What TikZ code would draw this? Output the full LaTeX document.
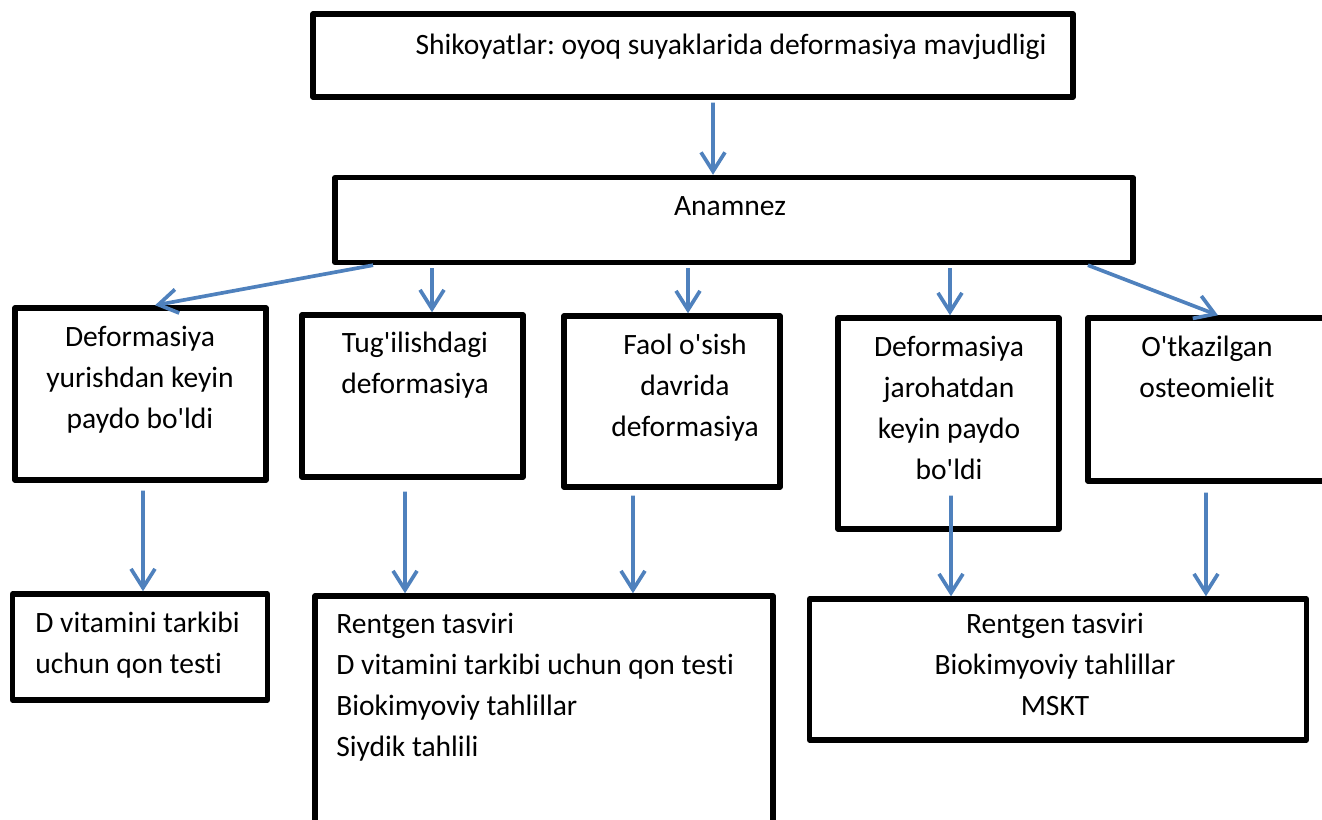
\documentclass[tikz,border=0pt]{standalone}
\usepackage{fontspec}
\setmainfont{Carlito}[Ligatures=NoCommon]
\usepackage{tikz}
\usetikzlibrary{arrows.meta, positioning}
\definecolor{arrblue}{RGB}{79,129,189}
\tikzset{
  box/.style={rectangle, draw=black, line width=3.1pt, line join=round, inner sep=0pt},
  txt/.style={font=\fontsize{16.8}{23.3}\selectfont, align=center, inner sep=0pt, anchor=north},
  ltxt/.style={font=\fontsize{16.8}{23.3}\selectfont, align=left, inner sep=0pt, anchor=north west},
  arr/.style={-{Straight Barb[length=0.38cm, width=0.48cm]}, line width=2.1pt, color=arrblue}
}
\newcommand{\tq}{\textquotesingle}
\frenchspacing

\begin{document}
\begin{tikzpicture}[x=0.02cm, y=-0.02cm]
  \useasboundingbox (0,0) rectangle (1322,820);

  % Complaint and anamnesis
  \node[box, minimum width=15.2cm, minimum height=1.66cm] (top) at (693,55.5) {};
  \node[txt] (toptxt) at (731,34) {Shikoyatlar: oyoq suyaklarida deformasiya mavjudligi};
  \node[box, minimum width=15.96cm, minimum height=1.7cm] (anamnez) at (734,220) {};
  \node[txt] (anamtxt) at (730,196) {Anamnez};

  % Second row: causes
  \node[box, minimum width=5.02cm, minimum height=3.44cm] (b1) at (140.5,394) {};
  \node[txt] (t1) at (140,326) {Deformasiya\\yurishdan keyin\\paydo bo\tq ldi};
  \node[box, minimum width=4.42cm, minimum height=3.24cm] (b2) at (412.5,396) {};
  \node[txt] (t2) at (415,332) {Tug\tq ilishdagi\\deformasiya};
  \node[box, minimum width=4.32cm, minimum height=3.42cm] (b3) at (672,401.5) {};
  \node[txt] (t3) at (685,334) {Faol o\tq sish\\davrida\\deformasiya};
  \node[box, minimum width=4.42cm, minimum height=4.22cm] (b4) at (948.5,423.5) {};
  \node[txt] (t4) at (949,336) {Deformasiya\\jarohatdan\\keyin paydo\\bo\tq ldi};
  \node[box, minimum width=4.84cm, minimum height=3.26cm] (b5) at (1209,399.5) {};
  \node[txt] (t5) at (1207,336) {O\tq tkazilgan\\osteomielit};

  % Third row: examinations
  \node[box, minimum width=5.1cm, minimum height=2.12cm] (b6) at (140,647) {};
  \node[ltxt] (t6) at (35,612) {D vitamini tarkibi\\uchun qon testi};
  \node[box, minimum width=9.16cm, minimum height=4.88cm] (b7) at (544,718) {};
  \node[ltxt] (t7) at (336,613) {Rentgen tasviri\\D vitamini tarkibi uchun qon testi\\Biokimyoviy tahlillar\\Siydik tahlili};
  \node[box, minimum width=9.94cm, minimum height=2.82cm] (b8) at (1058,669.5) {};
  \node[txt] (t8) at (1055,613) {Rentgen tasviri\\Biokimyoviy tahlillar\\MSKT};

  % Arrows
  \draw[arr] ([xshift=0.4cm, yshift=-0.06cm]top.south) -- ([xshift=-0.42cm]anamnez.north);
  \draw[arr] ([xshift=-7.22cm]anamnez.south) -- ([xshift=0.29cm]b1.north);
  \draw[arr] ([xshift=-6.04cm, yshift=-0.06cm]anamnez.south) -- ([xshift=0.39cm]b2.north);
  \draw[arr] ([xshift=-0.92cm, yshift=-0.06cm]anamnez.south) -- ([xshift=0.32cm]b3.north);
  \draw[arr] ([xshift=4.32cm, yshift=-0.06cm]anamnez.south) -- ([xshift=0.03cm]b4.north);
  \draw[arr] ([xshift=7.08cm]anamnez.south) -- ([xshift=0.18cm]b5.north);
  \draw[arr] ([xshift=0.05cm, yshift=-0.16cm]b1.south) -- ([xshift=0.06cm]b6.north);
  \draw[arr] ([xshift=-0.15cm, yshift=-0.24cm]b2.south) -- ([xshift=-2.78cm]b7.north);
  \draw[arr] ([xshift=-0.78cm, yshift=-0.12cm]b3.south) -- ([xshift=1.78cm]b7.north);
  \draw[arr] ([xshift=0.05cm, yshift=0.72cm]b4.south) -- ([xshift=-2.14cm]b8.north);
  \draw[arr] ([xshift=-0.06cm, yshift=-0.18cm]b5.south) -- ([xshift=2.96cm]b8.north);
\end{tikzpicture}
\end{document}
